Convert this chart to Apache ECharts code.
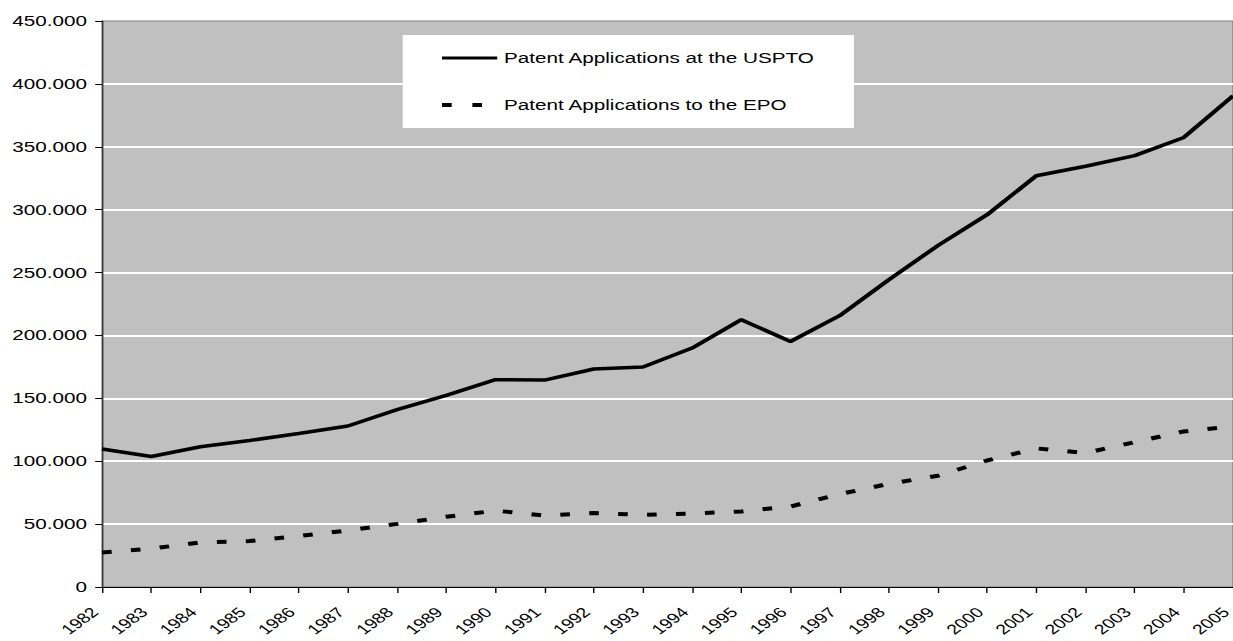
<!DOCTYPE html>
<html>
<head>
<meta charset="utf-8">
<script src="https://cdn.jsdelivr.net/npm/echarts@6/dist/echarts.min.js"></script>
<style>
html, body { margin: 0; padding: 0; background: #fff; overflow: hidden; }
/* the original picture is stretched sideways, so the chart is drawn narrow and scaled */
#chart { width: 894px; height: 641px; transform: scaleX(1.3792); transform-origin: 0 0; }
</style>
</head>
<body>
<div id="chart"></div>
<script>
var years = ['1982','1983','1984','1985','1986','1987','1988','1989','1990','1991','1992','1993',
	'1994','1995','1996','1997','1998','1999','2000','2001','2002','2003','2004','2005'];
// Patent Applications at the USPTO
var uspto = [109700, 103800, 111500, 116500, 122000, 128000, 141000, 152300, 164800, 164500, 173300, 174900,
	190000, 212500, 195200, 215700, 244300, 271500, 296000, 327000, 334500, 343000, 357400, 390500];
// Patent Applications to the EPO
var epo = [27500, 30500, 35500, 36500, 40500, 45000, 50200, 55800, 60700, 56800, 58800, 57300,
	58400, 60100, 64000, 73900, 82000, 88500, 100600, 110200, 106500, 115200, 123700, 127700];
var yTicks = { min: 0, max: 450000, interval: 50000 };

var font = 'Arial, "Liberation Sans", sans-serif';
var noSymbol = { color: 'rgba(0,0,0,0)', borderWidth: 0 };

var myChart = echarts.init(document.getElementById('chart'), null, { renderer: 'svg' });
var option = {
	backgroundColor: '#ffffff',
	animation: false,
	grid: {
		left: 74, right: 0, top: 21, bottom: 54,
		containLabel: false,
		outerBoundsMode: 'none',
		show: true,
		backgroundColor: '#c0c0c0',
		borderColor: '#808080',
		borderWidth: 1
	},
	legend: {
		left: 292, top: 35,
		orient: 'vertical',
		backgroundColor: '#ffffff',
		padding: [15, 28, 15, 26.5],
		itemGap: 31,
		itemWidth: 40,
		itemHeight: 16,
		textStyle: { fontFamily: font, fontSize: 15, color: '#000', lineHeight: 16 },
		data: [
			{ name: 'Patent Applications at the USPTO', itemStyle: noSymbol,
				lineStyle: { color: '#000', width: 3, type: 'solid' } },
			{ name: 'Patent Applications to the EPO', itemStyle: noSymbol,
				lineStyle: { color: '#000', width: 4, type: [7, 15] } }
		]
	},
	xAxis: {
		type: 'category',
		data: years,
		boundaryGap: false,
		axisLine: { lineStyle: { color: '#000', width: 1 } },
		axisTick: { alignWithLabel: true, length: 6, lineStyle: { color: '#000' } },
		axisLabel: {
			rotate: 45, margin: 28, interval: 0, verticalAlign: 'bottom',
			fontFamily: font, fontSize: 14, lineHeight: 14, color: '#000'
		},
		splitLine: { show: false }
	},
	yAxis: {
		type: 'value',
		min: yTicks.min, max: yTicks.max, interval: yTicks.interval,
		axisLine: { show: true, lineStyle: { color: '#333', width: 1 } },
		axisTick: { show: true, length: 5, lineStyle: { color: '#000' } },
		axisLabel: {
			margin: 11, fontFamily: font, fontSize: 15, color: '#000',
			formatter: function (v) { return v === 0 ? '0' : (v / 1000) + '.000'; }
		},
		splitLine: { show: true, showMinLine: false, showMaxLine: false,
			lineStyle: { color: '#ffffff', width: 2 } }
	},
	series: [
		{
			name: 'Patent Applications at the USPTO',
			type: 'line',
			data: uspto,
			symbol: 'none',
			lineStyle: { color: '#000', width: 3.5 },
			itemStyle: { color: '#000' }
		},
		{
			name: 'Patent Applications to the EPO',
			type: 'line',
			data: epo,
			symbol: 'none',
			lineStyle: { color: '#000', width: 4, type: [7, 14] },
			itemStyle: { color: '#000' }
		}
	]
};
myChart.setOption(option);
</script>
</body>
</html>
